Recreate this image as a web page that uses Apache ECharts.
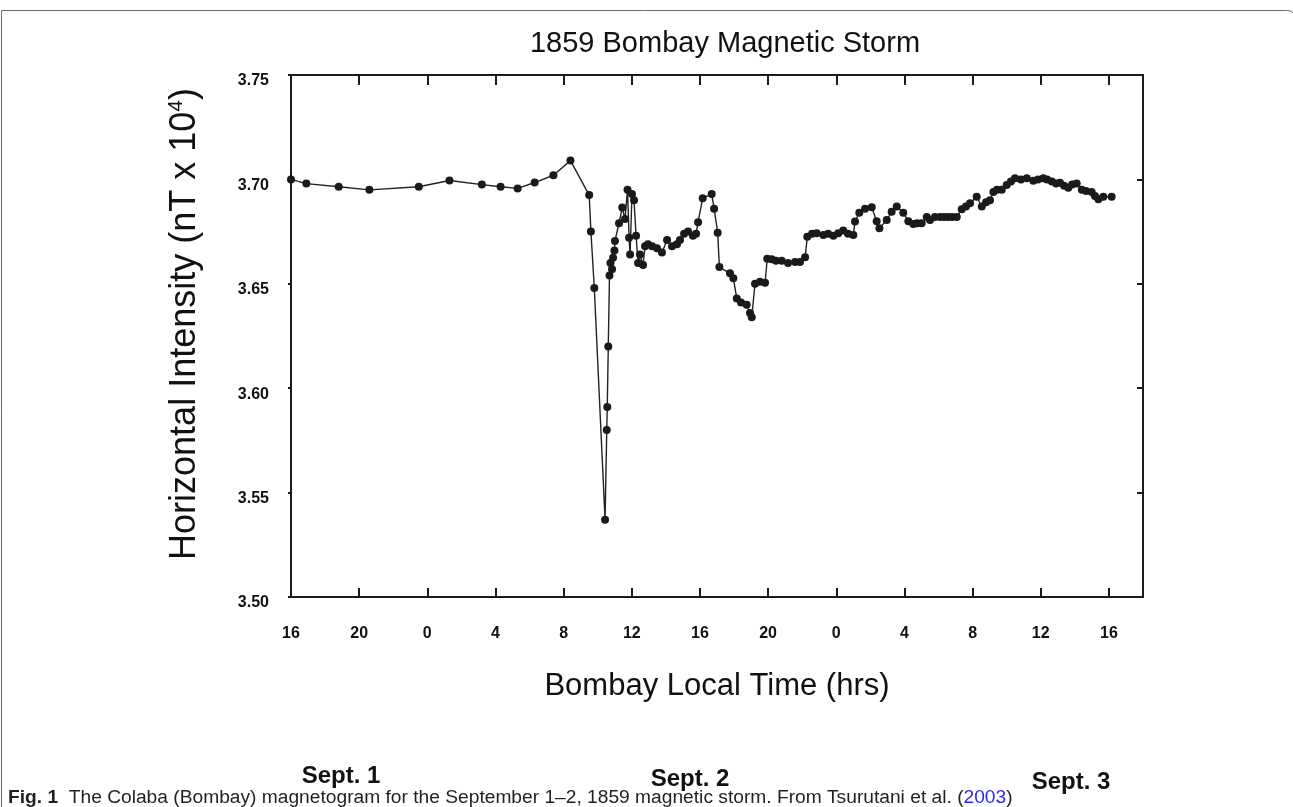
<!DOCTYPE html>
<html>
<head>
<meta charset="utf-8">
<title>1859 Bombay Magnetic Storm</title>
<script src="https://cdn.jsdelivr.net/npm/echarts@6/dist/echarts.min.js"></script>
<style>
  html, body { margin: 0; padding: 0; background: #fff; }
  #magChart { width: 1293px; height: 807px; }
</style>
</head>
<body>
<div id="magChart"></div>
<script>
// hours counted from Sept. 1, 00:00 Bombay local time
const hours = [
  16.0, 16.9, 18.8, 20.6, 23.5, 25.3, 27.2, 28.3, 29.3, 30.3, 31.4, 32.4,
  33.5, 33.6, 33.8, 34.43, 34.53, 34.56, 34.62, 34.69, 34.75, 34.84, 34.90, 34.98,
  35.01, 35.25, 35.44, 35.60, 35.75, 35.84, 35.90, 36.01, 36.13, 36.25, 36.37, 36.48,
  36.66, 36.78, 36.95, 37.19, 37.48, 37.77, 38.07, 38.36, 38.65, 38.83, 39.07, 39.30,
  39.59, 39.77, 39.89, 40.16, 40.69, 40.83, 41.04, 41.14, 41.76, 41.96, 42.16, 42.41,
  42.74, 42.94, 43.04, 43.23, 43.52, 43.82, 43.95, 44.21, 44.46, 44.80, 45.17, 45.58,
  45.87, 46.17, 46.30, 46.58, 46.85, 47.24, 47.52, 47.83, 48.12, 48.41, 48.69, 49.00,
  49.10, 49.35, 49.69, 50.08, 50.37, 50.53, 50.96, 51.25, 51.55, 51.93, 52.23, 52.52,
  52.74, 53.01, 53.31, 53.50, 53.79, 54.09, 54.32, 54.57, 54.79, 55.07, 55.36, 55.61,
  55.85, 56.24, 56.54, 56.79, 57.02, 57.22, 57.43, 57.71, 58.00, 58.25, 58.49, 58.84,
  59.18, 59.56, 59.84, 60.15, 60.37, 60.65, 60.90, 61.13, 61.37, 61.62, 61.84, 62.11,
  62.41, 62.66, 62.99, 63.18, 63.38, 63.67, 64.16
];
// horizontal intensity, nT x 10^4
const intensity = [
  3.700, 3.698, 3.6965, 3.695, 3.6965, 3.6995, 3.6975, 3.6965, 3.6957, 3.6985, 3.702, 3.709,
  3.6925, 3.675, 3.648, 3.537, 3.580, 3.591, 3.620, 3.654, 3.660, 3.657, 3.6625, 3.666,
  3.6705, 3.679, 3.6865, 3.681, 3.695, 3.672, 3.664, 3.693, 3.690, 3.673, 3.660, 3.664,
  3.659, 3.668, 3.669, 3.668, 3.667, 3.665, 3.671, 3.668, 3.669, 3.671, 3.674, 3.675,
  3.673, 3.674, 3.6795, 3.691, 3.693, 3.686, 3.6745, 3.658, 3.655, 3.6526, 3.643, 3.641,
  3.640, 3.636, 3.634, 3.650, 3.651, 3.6505, 3.662, 3.6617, 3.661, 3.661, 3.660, 3.6605,
  3.6605, 3.6627, 3.6725, 3.674, 3.6742, 3.6734, 3.674, 3.673, 3.6742, 3.6755, 3.674, 3.6734,
  3.6798, 3.684, 3.686, 3.6867, 3.680, 3.6766, 3.6805, 3.6845, 3.687, 3.684, 3.680, 3.6786,
  3.679, 3.679, 3.682, 3.6805, 3.682, 3.682, 3.682, 3.682, 3.682, 3.682, 3.6857, 3.687,
  3.6886, 3.6917, 3.687, 3.689, 3.690, 3.694, 3.695, 3.695, 3.6973, 3.699, 3.7005, 3.700,
  3.7005, 3.6994, 3.700, 3.7005, 3.700, 3.699, 3.698, 3.6984, 3.697, 3.696, 3.6975, 3.698,
  3.695, 3.6945, 3.694, 3.692, 3.6905, 3.6917, 3.6917
];
const dayLabels = ['Sept. 1', 'Sept. 2', 'Sept. 3'];
const captionText = '{b|Fig. 1}  The Colaba (Bombay) magnetogram for the September 1\u20132, 1859 magnetic storm. From Tsurutani et al. ({a|2003})';

const seriesData = hours.map((h, i) => [h, intensity[i]]);

const ink = '#1a1a1a';
const tickFont = { fontFamily: 'Liberation Sans', fontWeight: 'bold', fontSize: 16, color: '#111' };

const chart = echarts.init(document.getElementById('magChart'), null, { renderer: 'canvas' });

const option = {
  animation: false,
  backgroundColor: '#fff',
  title: {
    text: '1859 Bombay Magnetic Storm',
    left: 720,
    top: 24,
    textAlign: 'center',
    textStyle: { fontFamily: 'Liberation Sans', fontWeight: 'normal', fontSize: 29, color: '#111' }
  },
  grid: { left: 291, top: 75, right: 150, bottom: 210, containLabel: false },
  xAxis: [
    {
      type: 'value',
      position: 'bottom',
      min: 16,
      max: 66,
      interval: 4,
      name: 'Bombay Local Time (hrs)',
      nameLocation: 'middle',
      nameGap: 74,
      nameTextStyle: { fontFamily: 'Liberation Sans', fontSize: 31, color: '#111' },
      axisLine: { show: true, lineStyle: { color: ink, width: 2 } },
      axisTick: { show: true, inside: true, length: 9, lineStyle: { color: ink, width: 2 } },
      axisLabel: Object.assign({
        margin: 29,
        formatter: (v) => (v % 4 === 0 ? String(v % 24) : '')
      }, tickFont),
      splitLine: { show: false }
    },
    {
      type: 'value',
      position: 'top',
      min: 16,
      max: 66,
      interval: 4,
      axisLine: { show: true, lineStyle: { color: ink, width: 2 } },
      axisTick: { show: true, inside: true, length: 10, lineStyle: { color: ink, width: 2 } },
      axisLabel: { show: false },
      splitLine: { show: false }
    }
  ],
  yAxis: [
    {
      type: 'value',
      position: 'left',
      min: 3.5,
      max: 3.75,
      interval: 0.05,
      name: 'Horizontal Intensity (nT x 10{sup|4})',
      nameLocation: 'middle',
      nameGap: 87,
      nameTextStyle: {
        fontFamily: 'Liberation Sans', fontSize: 36, color: '#111',
        padding: [0, 0, 0, 24],
        rich: {
          sup: { fontFamily: 'Liberation Sans', fontSize: 21, color: '#111', verticalAlign: 'top', padding: [0, 0, 17, 0] }
        }
      },
      axisLine: { show: true, lineStyle: { color: ink, width: 2 } },
      axisTick: { show: true, inside: false, length: 3, lineStyle: { color: ink, width: 2 } },
      axisLabel: Object.assign({
        margin: 22,
        verticalAlign: 'top',
        lineHeight: 12,
        formatter: (v) => v.toFixed(2)
      }, tickFont),
      splitLine: { show: false }
    },
    {
      type: 'value',
      position: 'right',
      min: 3.5,
      max: 3.75,
      interval: 0.05,
      axisLine: { show: true, lineStyle: { color: ink, width: 2 } },
      axisTick: { show: true, inside: true, length: 6, lineStyle: { color: ink, width: 2 } },
      axisLabel: { show: false },
      splitLine: { show: false }
    }
  ],
  series: [
    {
      name: 'Colaba H',
      type: 'line',
      xAxisIndex: 0,
      yAxisIndex: 0,
      data: seriesData,
      symbol: 'circle',
      symbolSize: 8,
      showSymbol: true,
      itemStyle: { color: ink },
      lineStyle: { color: '#222', width: 1.4 },
      z: 5
    }
  ],
  graphic: [
    {
      type: 'rect',
      shape: { x: 1.5, y: 10.5, width: 1294, height: 900, r: [0, 8, 0, 0] },
      style: { fill: 'none', stroke: '#6b6b6b', lineWidth: 1 },
      silent: true
    },
    {
      type: 'text',
      style: { x: 341, y: 776, text: dayLabels[0], align: 'center', verticalAlign: 'middle',
        fontFamily: 'Liberation Sans', fontWeight: 'bold', fontSize: 24, fill: '#111' }
    },
    {
      type: 'text',
      style: { x: 690, y: 779, text: dayLabels[1], align: 'center', verticalAlign: 'middle',
        fontFamily: 'Liberation Sans', fontWeight: 'bold', fontSize: 24, fill: '#111' }
    },
    {
      type: 'text',
      style: { x: 1071, y: 782, text: dayLabels[2], align: 'center', verticalAlign: 'middle',
        fontFamily: 'Liberation Sans', fontWeight: 'bold', fontSize: 24, fill: '#111' }
    },
    {
      type: 'text',
      style: {
        x: 8, y: 798, text: captionText, align: 'left', verticalAlign: 'middle',
        fontFamily: 'Liberation Sans', fontSize: 19.2, fill: '#231f20',
        rich: {
          b: { fontFamily: 'Liberation Sans', fontWeight: 'bold', fontSize: 19.2, fill: '#231f20' },
          a: { fontFamily: 'Liberation Sans', fontSize: 19.2, fill: '#2b2bef' }
        }
      }
    }
  ]
};

chart.setOption(option);
</script>
</body>
</html>
